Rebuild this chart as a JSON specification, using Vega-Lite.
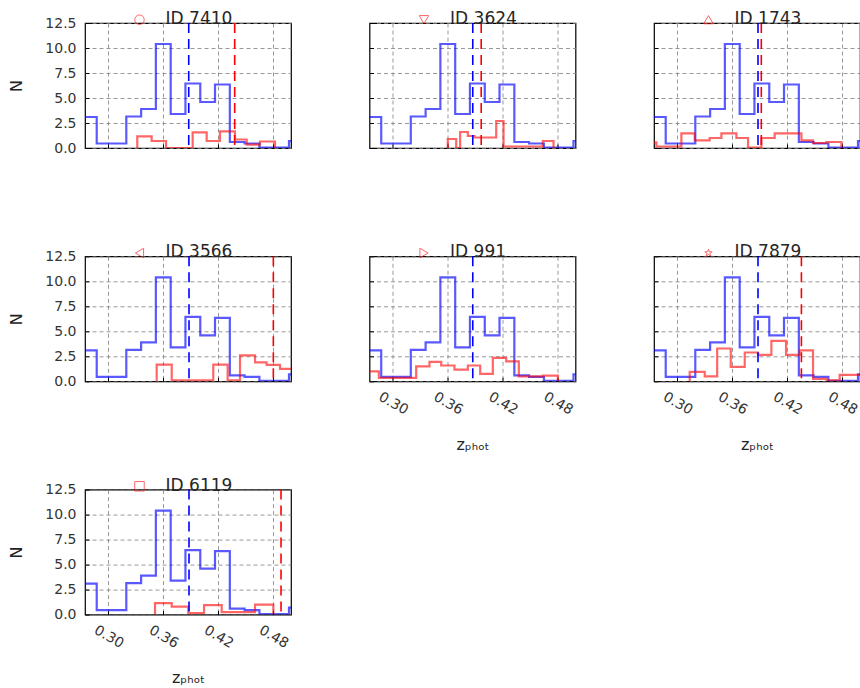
{
  "$schema": "https://vega.github.io/schema/vega-lite/v6.json",
  "padding": {"left": 8, "top": 9, "right": 0, "bottom": 0},
  "background": "white",
  "datasets": {
    "blue": [
      {"z": 0.2711, "n": 3.1}, {"z": 0.2873, "n": 0.45}, {"z": 0.3196, "n": 3.15}, {"z": 0.3358, "n": 3.9},
      {"z": 0.3519, "n": 10.4}, {"z": 0.3681, "n": 3.4}, {"z": 0.3842, "n": 6.45}, {"z": 0.4004, "n": 4.6},
      {"z": 0.4165, "n": 6.35}, {"z": 0.4327, "n": 0.6}, {"z": 0.4488, "n": 0.45}, {"z": 0.465, "n": 0.05},
      {"z": 0.4973, "n": 0.7}, {"z": 0.5134, "n": 0.7}
    ],
    "red": [
      {"id": "7410", "z": 0.3316, "n": 0}, {"id": "7410", "z": 0.3316, "n": 1.16}, {"id": "7410", "z": 0.3473, "n": 0.7},
      {"id": "7410", "z": 0.363, "n": 0}, {"id": "7410", "z": 0.3921, "n": 1.56}, {"id": "7410", "z": 0.4074, "n": 0.7},
      {"id": "7410", "z": 0.4219, "n": 1.66}, {"id": "7410", "z": 0.4383, "n": 0.85}, {"id": "7410", "z": 0.4511, "n": 0.33},
      {"id": "7410", "z": 0.4656, "n": 0.65}, {"id": "7410", "z": 0.482, "n": 0},

      {"id": "3624", "z": 0.36, "n": 0}, {"id": "3624", "z": 0.36, "n": 0.9}, {"id": "3624", "z": 0.3692, "n": 0},
      {"id": "3624", "z": 0.3735, "n": 1.6}, {"id": "3624", "z": 0.3819, "n": 1.2}, {"id": "3624", "z": 0.3892, "n": 1.05},
      {"id": "3624", "z": 0.4129, "n": 2.7}, {"id": "3624", "z": 0.4209, "n": 0.15}, {"id": "3624", "z": 0.4638, "n": 0.7},
      {"id": "3624", "z": 0.4755, "n": 0},

      {"id": "1743", "z": 0.27, "n": 0.57}, {"id": "1743", "z": 0.2771, "n": 0.15}, {"id": "1743", "z": 0.3044, "n": 1.47},
      {"id": "1743", "z": 0.319, "n": 0.77}, {"id": "1743", "z": 0.3353, "n": 1.0}, {"id": "1743", "z": 0.3481, "n": 1.47},
      {"id": "1743", "z": 0.3645, "n": 1.0}, {"id": "1743", "z": 0.3772, "n": 0.05}, {"id": "1743", "z": 0.3918, "n": 1.0},
      {"id": "1743", "z": 0.4063, "n": 1.47}, {"id": "1743", "z": 0.4355, "n": 0.77}, {"id": "1743", "z": 0.4482, "n": 0.5},
      {"id": "1743", "z": 0.4628, "n": 0.6}, {"id": "1743", "z": 0.4792, "n": 0},

      {"id": "3566", "z": 0.3528, "n": 0}, {"id": "3566", "z": 0.3528, "n": 1.67}, {"id": "3566", "z": 0.3692, "n": 0.1},
      {"id": "3566", "z": 0.4146, "n": 1.67}, {"id": "3566", "z": 0.4303, "n": 0.1}, {"id": "3566", "z": 0.4438, "n": 2.6},
      {"id": "3566", "z": 0.4602, "n": 1.9}, {"id": "3566", "z": 0.4729, "n": 1.65}, {"id": "3566", "z": 0.4875, "n": 1.25},
      {"id": "3566", "z": 0.51, "n": 1.25},

      {"id": "991", "z": 0.27, "n": 1.0}, {"id": "991", "z": 0.2847, "n": 0.34}, {"id": "991", "z": 0.3255, "n": 1.5},
      {"id": "991", "z": 0.34, "n": 1.95}, {"id": "991", "z": 0.3528, "n": 1.58}, {"id": "991", "z": 0.3673, "n": 1.17},
      {"id": "991", "z": 0.3819, "n": 1.58}, {"id": "991", "z": 0.3954, "n": 0.74}, {"id": "991", "z": 0.4092, "n": 2.35},
      {"id": "991", "z": 0.4238, "n": 2.0}, {"id": "991", "z": 0.4376, "n": 0.5}, {"id": "991", "z": 0.4638, "n": 0.57},
      {"id": "991", "z": 0.4802, "n": 0},

      {"id": "7879", "z": 0.3135, "n": 0}, {"id": "7879", "z": 0.3135, "n": 0.94}, {"id": "7879", "z": 0.3299, "n": 0.5},
      {"id": "7879", "z": 0.3435, "n": 3.28}, {"id": "7879", "z": 0.3583, "n": 1.44}, {"id": "7879", "z": 0.3736, "n": 2.88},
      {"id": "7879", "z": 0.3881, "n": 2.65}, {"id": "7879", "z": 0.4027, "n": 4.05}, {"id": "7879", "z": 0.4187, "n": 2.65},
      {"id": "7879", "z": 0.4336, "n": 3.1}, {"id": "7879", "z": 0.4482, "n": 0.25}, {"id": "7879", "z": 0.4628, "n": 0.1},
      {"id": "7879", "z": 0.4773, "n": 0.65}, {"id": "7879", "z": 0.51, "n": 0.65},

      {"id": "6119", "z": 0.351, "n": 0}, {"id": "6119", "z": 0.351, "n": 1.15}, {"id": "6119", "z": 0.3692, "n": 0.8},
      {"id": "6119", "z": 0.3873, "n": 0.15}, {"id": "6119", "z": 0.4045, "n": 0.95}, {"id": "6119", "z": 0.4238, "n": 0.25},
      {"id": "6119", "z": 0.4602, "n": 1.0}, {"id": "6119", "z": 0.4802, "n": 0}
    ]
  },
  "columns": 3,
  "bounds": "flush",
  "spacing": {"row": 108.3, "column": 78.5},
  "concat": [
    {
      "width": 206, "height": 125,
      "layer": [
        {"data": {"name": "blue"}, "mark": {"type": "line", "interpolate": "step-after", "color": "blue", "opacity": 0.65, "strokeWidth": 2.2, "clip": true},
         "encoding": {"x": {"field": "z", "type": "quantitative", "scale": {"domain": [0.2745, 0.4995], "nice": false, "zero": false}, "axis": {"values": [0.3, 0.36, 0.42, 0.48], "tickCount": 10, "labels": false, "title": null}},
                      "y": {"field": "n", "type": "quantitative", "scale": {"domain": [0, 12.5], "nice": false, "zero": false}, "axis": {"values": [0, 2.5, 5, 7.5, 10, 12.5], "tickCount": 10, "format": ".1f", "title": "N", "labelPadding": 13, "titlePadding": 20, "labelOverlap": false, "labelFlush": false}},
                      "order": {"value": null}}},
        {"data": {"name": "red"}, "transform": [{"filter": "datum.id === '7410'"}], "mark": {"type": "line", "interpolate": "step-after", "color": "red", "opacity": 0.6, "strokeWidth": 2.2, "clip": true},
         "encoding": {"x": {"field": "z", "type": "quantitative"}, "y": {"field": "n", "type": "quantitative"}, "order": {"value": null}}},
        {"data": {"values": [{"z": 0.3878}]}, "mark": {"type": "rule", "color": "blue", "strokeDash": [10, 6], "strokeWidth": 1.6}, "encoding": {"x": {"field": "z", "type": "quantitative"}}},
        {"data": {"values": [{"z": 0.438}]}, "mark": {"type": "rule", "color": "red", "strokeDash": [10, 6], "strokeWidth": 1.6}, "encoding": {"x": {"field": "z", "type": "quantitative"}}},
        {"data": {"values": [{"label": "ID 7410"}]}, "mark": {"type": "point", "shape": "circle", "color": "red", "opacity": 0.6, "size": 90, "filled": false, "strokeWidth": 1},
         "encoding": {"x": {"datum": 0.334}, "y": {"datum": 12.83}}},
        {"data": {"values": [{"label": "ID 7410"}]}, "mark": {"type": "text", "align": "left", "baseline": "alphabetic", "fontSize": 17, "color": "#262626", "dy": 1},
         "encoding": {"x": {"datum": 0.3625}, "y": {"datum": 12.5}, "text": {"field": "label"}}}
      ]
    },
    {
      "width": 206, "height": 125,
      "layer": [
        {"data": {"name": "blue"}, "mark": {"type": "line", "interpolate": "step-after", "color": "blue", "opacity": 0.65, "strokeWidth": 2.2, "clip": true},
         "encoding": {"x": {"field": "z", "type": "quantitative", "scale": {"domain": [0.2745, 0.4995], "nice": false, "zero": false}, "axis": {"values": [0.3, 0.36, 0.42, 0.48], "tickCount": 10, "labels": false, "title": null}},
                      "y": {"field": "n", "type": "quantitative", "scale": {"domain": [0, 12.5], "nice": false, "zero": false}, "axis": {"values": [0, 2.5, 5, 7.5, 10, 12.5], "tickCount": 10, "labels": false, "title": null}},
                      "order": {"value": null}}},
        {"data": {"name": "red"}, "transform": [{"filter": "datum.id === '3624'"}], "mark": {"type": "line", "interpolate": "step-after", "color": "red", "opacity": 0.6, "strokeWidth": 2.2, "clip": true},
         "encoding": {"x": {"field": "z", "type": "quantitative"}, "y": {"field": "n", "type": "quantitative"}, "order": {"value": null}}},
        {"data": {"values": [{"z": 0.3873}]}, "mark": {"type": "rule", "color": "blue", "strokeDash": [10, 6], "strokeWidth": 1.6}, "encoding": {"x": {"field": "z", "type": "quantitative"}}},
        {"data": {"values": [{"z": 0.3965}]}, "mark": {"type": "rule", "color": "red", "strokeDash": [10, 6], "strokeWidth": 1.6}, "encoding": {"x": {"field": "z", "type": "quantitative"}}},
        {"data": {"values": [{"label": "ID 3624"}]}, "mark": {"type": "point", "shape": "triangle-down", "color": "red", "opacity": 0.6, "size": 90, "filled": false, "strokeWidth": 1},
         "encoding": {"x": {"datum": 0.334}, "y": {"datum": 12.83}}},
        {"data": {"values": [{"label": "ID 3624"}]}, "mark": {"type": "text", "align": "left", "baseline": "alphabetic", "fontSize": 17, "color": "#262626", "dy": 1},
         "encoding": {"x": {"datum": 0.3625}, "y": {"datum": 12.5}, "text": {"field": "label"}}}
      ]
    },
    {
      "width": 206, "height": 125,
      "layer": [
        {"data": {"name": "blue"}, "mark": {"type": "line", "interpolate": "step-after", "color": "blue", "opacity": 0.65, "strokeWidth": 2.2, "clip": true},
         "encoding": {"x": {"field": "z", "type": "quantitative", "scale": {"domain": [0.2745, 0.4995], "nice": false, "zero": false}, "axis": {"values": [0.3, 0.36, 0.42, 0.48], "tickCount": 10, "labels": false, "title": null}},
                      "y": {"field": "n", "type": "quantitative", "scale": {"domain": [0, 12.5], "nice": false, "zero": false}, "axis": {"values": [0, 2.5, 5, 7.5, 10, 12.5], "tickCount": 10, "labels": false, "title": null}},
                      "order": {"value": null}}},
        {"data": {"name": "red"}, "transform": [{"filter": "datum.id === '1743'"}], "mark": {"type": "line", "interpolate": "step-after", "color": "red", "opacity": 0.6, "strokeWidth": 2.2, "clip": true},
         "encoding": {"x": {"field": "z", "type": "quantitative"}, "y": {"field": "n", "type": "quantitative"}, "order": {"value": null}}},
        {"data": {"values": [{"z": 0.3881}]}, "mark": {"type": "rule", "color": "blue", "strokeDash": [10, 6], "strokeWidth": 1.6}, "encoding": {"x": {"field": "z", "type": "quantitative"}}},
        {"data": {"values": [{"z": 0.3917}]}, "mark": {"type": "rule", "color": "red", "strokeDash": [10, 6], "strokeWidth": 1.6}, "encoding": {"x": {"field": "z", "type": "quantitative"}}},
        {"data": {"values": [{"label": "ID 1743"}]}, "mark": {"type": "point", "shape": "triangle-up", "color": "red", "opacity": 0.6, "size": 90, "filled": false, "strokeWidth": 1},
         "encoding": {"x": {"datum": 0.334}, "y": {"datum": 12.83}}},
        {"data": {"values": [{"label": "ID 1743"}]}, "mark": {"type": "text", "align": "left", "baseline": "alphabetic", "fontSize": 17, "color": "#262626", "dy": 1},
         "encoding": {"x": {"datum": 0.3625}, "y": {"datum": 12.5}, "text": {"field": "label"}}}
      ]
    },
    {
      "width": 206, "height": 125,
      "layer": [
        {"data": {"name": "blue"}, "mark": {"type": "line", "interpolate": "step-after", "color": "blue", "opacity": 0.65, "strokeWidth": 2.2, "clip": true},
         "encoding": {"x": {"field": "z", "type": "quantitative", "scale": {"domain": [0.2745, 0.4995], "nice": false, "zero": false}, "axis": {"values": [0.3, 0.36, 0.42, 0.48], "tickCount": 10, "labels": false, "title": null}},
                      "y": {"field": "n", "type": "quantitative", "scale": {"domain": [0, 12.5], "nice": false, "zero": false}, "axis": {"values": [0, 2.5, 5, 7.5, 10, 12.5], "tickCount": 10, "format": ".1f", "title": "N", "labelPadding": 13, "titlePadding": 20, "labelOverlap": false, "labelFlush": false}},
                      "order": {"value": null}}},
        {"data": {"name": "red"}, "transform": [{"filter": "datum.id === '3566'"}], "mark": {"type": "line", "interpolate": "step-after", "color": "red", "opacity": 0.6, "strokeWidth": 2.2, "clip": true},
         "encoding": {"x": {"field": "z", "type": "quantitative"}, "y": {"field": "n", "type": "quantitative"}, "order": {"value": null}}},
        {"data": {"values": [{"z": 0.3881}]}, "mark": {"type": "rule", "color": "blue", "strokeDash": [10, 6], "strokeWidth": 1.6}, "encoding": {"x": {"field": "z", "type": "quantitative"}}},
        {"data": {"values": [{"z": 0.4802}]}, "mark": {"type": "rule", "color": "red", "strokeDash": [10, 6], "strokeWidth": 1.6}, "encoding": {"x": {"field": "z", "type": "quantitative"}}},
        {"data": {"values": [{"label": "ID 3566"}]}, "mark": {"type": "point", "shape": "triangle-left", "color": "red", "opacity": 0.6, "size": 90, "filled": false, "strokeWidth": 1},
         "encoding": {"x": {"datum": 0.334}, "y": {"datum": 12.83}}},
        {"data": {"values": [{"label": "ID 3566"}]}, "mark": {"type": "text", "align": "left", "baseline": "alphabetic", "fontSize": 17, "color": "#262626", "dy": 1},
         "encoding": {"x": {"datum": 0.3625}, "y": {"datum": 12.5}, "text": {"field": "label"}}}
      ]
    },
    {
      "width": 206, "height": 125,
      "layer": [
        {"data": {"name": "blue"}, "mark": {"type": "line", "interpolate": "step-after", "color": "blue", "opacity": 0.65, "strokeWidth": 2.2, "clip": true},
         "encoding": {"x": {"field": "z", "type": "quantitative", "scale": {"domain": [0.2745, 0.4995], "nice": false, "zero": false}, "axis": {"values": [0.3, 0.36, 0.42, 0.48], "tickCount": 10, "format": ".2f", "labelAngle": 30, "labelAlign": "center", "labelBaseline": "middle", "labelPadding": 26, "labelOverlap": false, "title": "zₚₕₒₜ", "titlePadding": 19}},
                      "y": {"field": "n", "type": "quantitative", "scale": {"domain": [0, 12.5], "nice": false, "zero": false}, "axis": {"values": [0, 2.5, 5, 7.5, 10, 12.5], "tickCount": 10, "labels": false, "title": null}},
                      "order": {"value": null}}},
        {"data": {"name": "red"}, "transform": [{"filter": "datum.id === '991'"}], "mark": {"type": "line", "interpolate": "step-after", "color": "red", "opacity": 0.6, "strokeWidth": 2.2, "clip": true},
         "encoding": {"x": {"field": "z", "type": "quantitative"}, "y": {"field": "n", "type": "quantitative"}, "order": {"value": null}}},
        {"data": {"values": [{"z": 0.3873}]}, "mark": {"type": "rule", "color": "blue", "strokeDash": [10, 6], "strokeWidth": 1.6}, "encoding": {"x": {"field": "z", "type": "quantitative"}}},
        {"data": {"values": [{"label": "ID 991"}]}, "mark": {"type": "point", "shape": "triangle-right", "color": "red", "opacity": 0.6, "size": 90, "filled": false, "strokeWidth": 1},
         "encoding": {"x": {"datum": 0.334}, "y": {"datum": 12.83}}},
        {"data": {"values": [{"label": "ID 991"}]}, "mark": {"type": "text", "align": "left", "baseline": "alphabetic", "fontSize": 17, "color": "#262626", "dy": 1},
         "encoding": {"x": {"datum": 0.3625}, "y": {"datum": 12.5}, "text": {"field": "label"}}}
      ]
    },
    {
      "width": 206, "height": 125,
      "layer": [
        {"data": {"name": "blue"}, "mark": {"type": "line", "interpolate": "step-after", "color": "blue", "opacity": 0.65, "strokeWidth": 2.2, "clip": true},
         "encoding": {"x": {"field": "z", "type": "quantitative", "scale": {"domain": [0.2745, 0.4995], "nice": false, "zero": false}, "axis": {"values": [0.3, 0.36, 0.42, 0.48], "tickCount": 10, "format": ".2f", "labelAngle": 30, "labelAlign": "center", "labelBaseline": "middle", "labelPadding": 26, "labelOverlap": false, "title": "zₚₕₒₜ", "titlePadding": 19}},
                      "y": {"field": "n", "type": "quantitative", "scale": {"domain": [0, 12.5], "nice": false, "zero": false}, "axis": {"values": [0, 2.5, 5, 7.5, 10, 12.5], "tickCount": 10, "labels": false, "title": null}},
                      "order": {"value": null}}},
        {"data": {"name": "red"}, "transform": [{"filter": "datum.id === '7879'"}], "mark": {"type": "line", "interpolate": "step-after", "color": "red", "opacity": 0.6, "strokeWidth": 2.2, "clip": true},
         "encoding": {"x": {"field": "z", "type": "quantitative"}, "y": {"field": "n", "type": "quantitative"}, "order": {"value": null}}},
        {"data": {"values": [{"z": 0.3881}]}, "mark": {"type": "rule", "color": "blue", "strokeDash": [10, 6], "strokeWidth": 1.6}, "encoding": {"x": {"field": "z", "type": "quantitative"}}},
        {"data": {"values": [{"z": 0.4355}]}, "mark": {"type": "rule", "color": "red", "strokeDash": [10, 6], "strokeWidth": 1.6}, "encoding": {"x": {"field": "z", "type": "quantitative"}}},
        {"data": {"values": [{"label": "ID 7879"}]}, "mark": {"type": "point", "shape": "M0,-1L0.2245,-0.309L0.951,-0.309L0.363,0.118L0.588,0.809L0,0.382L-0.588,0.809L-0.363,0.118L-0.951,-0.309L-0.2245,-0.309Z", "color": "red", "opacity": 0.6, "size": 60, "filled": false, "strokeWidth": 1},
         "encoding": {"x": {"datum": 0.334}, "y": {"datum": 12.83}}},
        {"data": {"values": [{"label": "ID 7879"}]}, "mark": {"type": "text", "align": "left", "baseline": "alphabetic", "fontSize": 17, "color": "#262626", "dy": 1},
         "encoding": {"x": {"datum": 0.3625}, "y": {"datum": 12.5}, "text": {"field": "label"}}}
      ]
    },
    {
      "width": 206, "height": 125,
      "layer": [
        {"data": {"name": "blue"}, "mark": {"type": "line", "interpolate": "step-after", "color": "blue", "opacity": 0.65, "strokeWidth": 2.2, "clip": true},
         "encoding": {"x": {"field": "z", "type": "quantitative", "scale": {"domain": [0.2745, 0.4995], "nice": false, "zero": false}, "axis": {"values": [0.3, 0.36, 0.42, 0.48], "tickCount": 10, "format": ".2f", "labelAngle": 30, "labelAlign": "center", "labelBaseline": "middle", "labelPadding": 26, "labelOverlap": false, "title": "zₚₕₒₜ", "titlePadding": 19}},
                      "y": {"field": "n", "type": "quantitative", "scale": {"domain": [0, 12.5], "nice": false, "zero": false}, "axis": {"values": [0, 2.5, 5, 7.5, 10, 12.5], "tickCount": 10, "format": ".1f", "title": "N", "labelPadding": 13, "titlePadding": 20, "labelOverlap": false, "labelFlush": false}},
                      "order": {"value": null}}},
        {"data": {"name": "red"}, "transform": [{"filter": "datum.id === '6119'"}], "mark": {"type": "line", "interpolate": "step-after", "color": "red", "opacity": 0.6, "strokeWidth": 2.2, "clip": true},
         "encoding": {"x": {"field": "z", "type": "quantitative"}, "y": {"field": "n", "type": "quantitative"}, "order": {"value": null}}},
        {"data": {"values": [{"z": 0.3881}]}, "mark": {"type": "rule", "color": "blue", "strokeDash": [10, 6], "strokeWidth": 1.6}, "encoding": {"x": {"field": "z", "type": "quantitative"}}},
        {"data": {"values": [{"z": 0.4886}]}, "mark": {"type": "rule", "color": "red", "strokeDash": [10, 6], "strokeWidth": 1.6}, "encoding": {"x": {"field": "z", "type": "quantitative"}}},
        {"data": {"values": [{"label": "ID 6119"}]}, "mark": {"type": "point", "shape": "square", "color": "red", "opacity": 0.6, "size": 90, "filled": false, "strokeWidth": 1},
         "encoding": {"x": {"datum": 0.334}, "y": {"datum": 12.83}}},
        {"data": {"values": [{"label": "ID 6119"}]}, "mark": {"type": "text", "align": "left", "baseline": "alphabetic", "fontSize": 17, "color": "#262626", "dy": 1},
         "encoding": {"x": {"datum": 0.3625}, "y": {"datum": 12.5}, "text": {"field": "label"}}}
      ]
    }
  ],
  "config": {
    "font": "DejaVu Sans",
    "view": {"stroke": "black", "strokeWidth": 1.2},
    "axis": {"grid": true, "gridColor": "#808080", "gridDash": [4, 3], "gridWidth": 1, "gridOpacity": 0.8, "domain": false,
             "ticks": true, "tickSize": -4, "tickColor": "#000000", "tickWidth": 1,
             "labelFont": "DejaVu Sans", "labelFontSize": 14, "labelColor": "#333333",
             "titleFont": "DejaVu Sans", "titleFontSize": 16, "titleFontWeight": "normal", "titleColor": "#222222"}
  }
}
